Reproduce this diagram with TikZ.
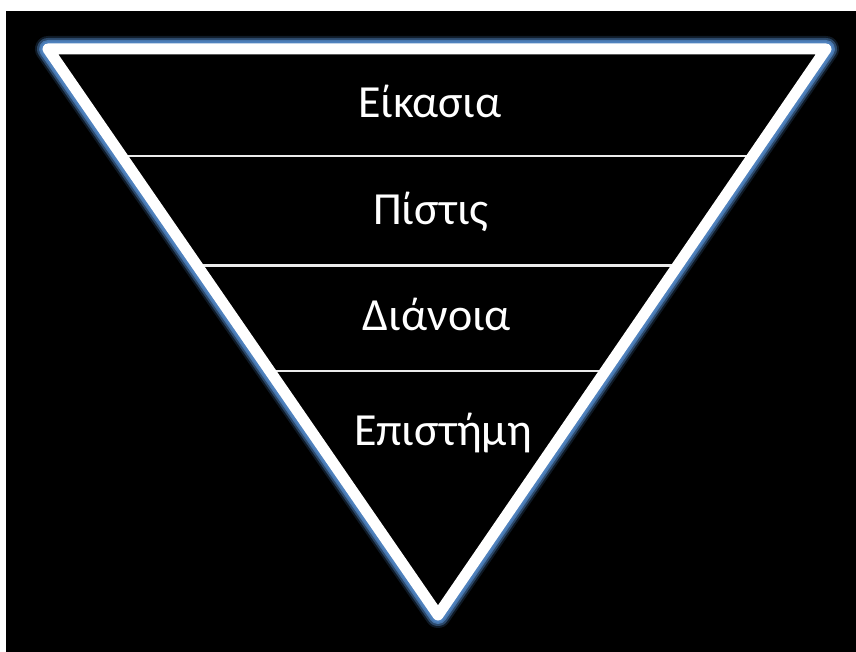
\documentclass[tikz,border=0pt]{standalone}
\usepackage{fontspec}
\setmainfont{Carlito}
\usetikzlibrary{calc}
\definecolor{glowblue}{HTML}{4F82BE}

\begin{document}
\begin{tikzpicture}[x=1pt, y=-1pt,
  glow/.style={draw=glowblue, line join=round, line cap=round},
  edge/.style={draw=white, line width=11pt, line join=round, line cap=round},
  divider/.style={draw=white!92!black, line width=2.6pt},
  level/.style={font=\fontsize{46}{50}\selectfont, text=white, anchor=base, inner sep=0pt}
]
% canvas
\fill[white] (0,0) rectangle (856,652);
\fill[black] (6,11) rectangle (856,652);
\useasboundingbox (0,0) rectangle (856,652);

% corners of the triangle
\coordinate (tl) at (48,49);
\coordinate (tr) at (826,49);
\coordinate (bot) at (438,615);

% points on the sides for the dividers
\foreach \t [count=\i] in {0.1890,0.382,0.569} {
  \coordinate (l\i) at ($(tl)!\t!(bot)$);
  \coordinate (r\i) at ($(tr)!\t!(bot)$);
}
\foreach \i in {1,2,3} {
  \draw[divider] (l\i) -- (r\i);
}

% outer glow, kept outside the triangle
\begin{scope}[even odd rule]
  \clip (0,0) rectangle (856,652) (tl) -- (tr) -- (bot) -- cycle;
  \draw[glow, line width=26pt, opacity=0.2] (tl) -- (tr) -- (bot) -- cycle;
  \draw[glow, line width=22pt, opacity=0.45] (tl) -- (tr) -- (bot) -- cycle;
  \draw[glow, line width=18pt, opacity=0.8] (tl) -- (tr) -- (bot) -- cycle;
  \draw[glow, line width=15pt] (tl) -- (tr) -- (bot) -- cycle;
\end{scope}
\draw[edge] (tl) -- (tr) -- (bot) -- cycle;

% labels
\node[level] (eikasia) at (430,118) {Είκασια};
\node[level] (pistis) at (431,225) {Πίστις};
\node[level] (dianoia) at (437,330) {Διάνοια};
\node[level] (episteme) at (443,445) {Επιστήμη};
\end{tikzpicture}
\end{document}
